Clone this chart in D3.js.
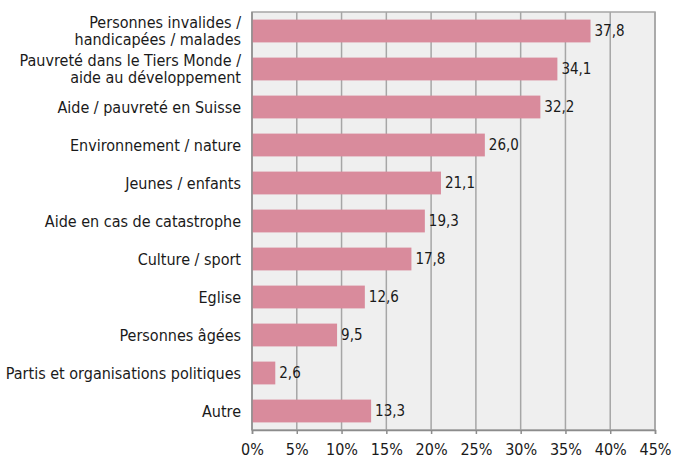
<!DOCTYPE html>
<html>
<head>
<meta charset="utf-8">
<script src="https://cdn.jsdelivr.net/npm/d3@7"></script>
<style>
  body { margin: 0; background: #fff; }
  text { font-family: "DejaVu Sans Condensed", "DejaVu Sans", sans-serif; font-stretch: condensed; fill: #1a1a1a; }
</style>
</head>
<body>
<svg id="drawing_region"></svg>
<script>
const categories = [
    ["Personnes invalides /", "handicapées / malades"],
    ["Pauvreté dans le Tiers Monde /", "aide au développement"],
    ["Aide / pauvreté en Suisse"],
    ["Environnement / nature"],
    ["Jeunes / enfants"],
    ["Aide en cas de catastrophe"],
    ["Culture / sport"],
    ["Eglise"],
    ["Personnes âgées"],
    ["Partis et organisations politiques"],
    ["Autre"]
];
const values = [37.8, 34.1, 32.2, 26.0, 21.1, 19.3, 17.8, 12.6, 9.5, 2.6, 13.3];
const xticks = [0, 5, 10, 15, 20, 25, 30, 35, 40, 45];

const data = categories.map((c, i) => ({ id: i, lines: c, value: values[i] }));

const config = {
    width: 673,
    height: 458,
    margin: { top: 12, right: 18, bottom: 28, left: 252 }
};

const svg = d3.select('#drawing_region')
    .attr('width', config.width)
    .attr('height', config.height);

const inner_width = config.width - config.margin.left - config.margin.right;
const inner_height = config.height - config.margin.top - config.margin.bottom;

const chart = svg.append('g')
    .attr('transform', `translate(${config.margin.left}, ${config.margin.top})`);

const xscale = d3.scaleLinear()
    .domain([0, 45])
    .range([0, inner_width]);

const yscale = d3.scaleBand()
    .domain(data.map(d => d.id))
    .range([0, inner_height])
    .paddingInner(0.4)
    .paddingOuter(0.2);

// background
chart.append('rect')
    .attr('width', inner_width)
    .attr('height', inner_height)
    .attr('fill', '#efefef')
    .attr('stroke', '#a6a6a6')
    .attr('stroke-width', 1.5);

// gridlines
chart.append('g')
    .selectAll('line')
    .data(xticks.slice(1))
    .enter()
    .append('line')
    .attr('x1', d => xscale(d))
    .attr('x2', d => xscale(d))
    .attr('y1', 0)
    .attr('y2', inner_height)
    .attr('stroke', '#a6a6a6')
    .attr('stroke-width', 1.5);

// bars
chart.append('g')
    .selectAll('rect')
    .data(data)
    .enter()
    .append('rect')
    .attr('x', 0)
    .attr('y', d => yscale(d.id))
    .attr('width', d => xscale(d.value))
    .attr('height', yscale.bandwidth())
    .attr('fill', '#d98b9c');

// value labels
chart.append('g')
    .selectAll('text')
    .data(data)
    .enter()
    .append('text')
    .attr('x', d => xscale(d.value) + 4)
    .attr('y', d => yscale(d.id) + yscale.bandwidth() / 2)
    .attr('dy', '0.35em')
    .style('font-size', '15px')
    .text(d => d.value.toFixed(1).replace('.', ','));

// x axis
const xaxis = d3.axisBottom(xscale)
    .tickValues(xticks)
    .tickSize(4)
    .tickFormat(d => d + '%');

const xaxis_group = chart.append('g')
    .attr('transform', `translate(0, ${inner_height})`)
    .call(xaxis);
xaxis_group.select('.domain').attr('stroke', '#8c8c8c').attr('stroke-width', 1.5);
xaxis_group.selectAll('.tick line').attr('stroke', '#8c8c8c').attr('stroke-width', 1.5);
xaxis_group.selectAll('.tick text')
    .attr('y', 14)
    .style('font-size', '16px')
    .style('font-family', '"DejaVu Sans Condensed", "DejaVu Sans", sans-serif')
    .attr('fill', '#1a1a1a');

// y axis line
chart.append('line')
    .attr('x1', 0).attr('x2', 0)
    .attr('y1', 0).attr('y2', inner_height)
    .attr('stroke', '#8c8c8c')
    .attr('stroke-width', 1.5);

// category labels
const ylabels = chart.append('g')
    .selectAll('text')
    .data(data)
    .enter()
    .append('text')
    .attr('text-anchor', 'end')
    .attr('x', -11)
    .attr('y', d => yscale(d.id) + yscale.bandwidth() / 2)
    .style('font-size', '16px');

ylabels.selectAll('tspan')
    .data(d => d.lines.map((t, i) => ({ t: t, i: i, n: d.lines.length })))
    .enter()
    .append('tspan')
    .attr('x', -11)
    .attr('dy', d => d.i === 0 ? `${0.35 - (d.n - 1) * 0.55}em` : '1.1em')
    .text(d => d.t);
</script>
</body>
</html>
